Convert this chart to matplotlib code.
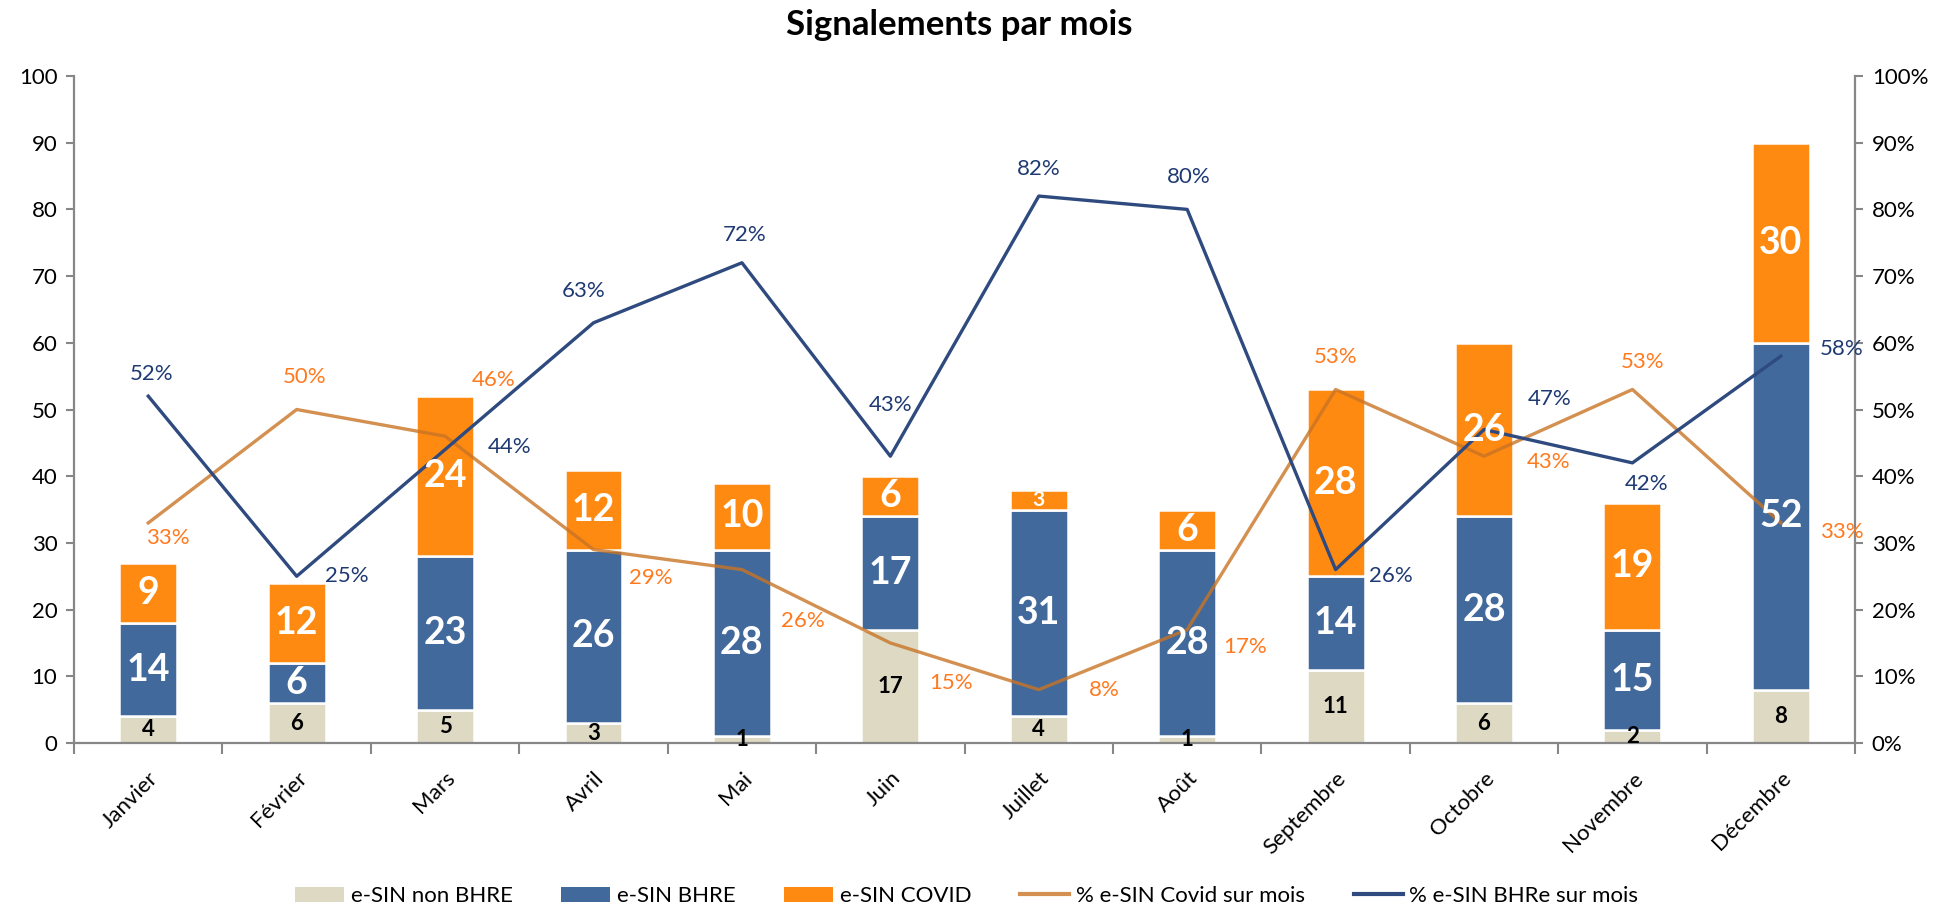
import numpy as np
import matplotlib.pyplot as plt
from matplotlib.patches import Patch
from matplotlib.lines import Line2D
from matplotlib.ticker import PercentFormatter

plt.rcParams['font.family'] = ['Lato', 'DejaVu Sans']

# données
mois = ['Janvier', 'Février', 'Mars', 'Avril', 'Mai', 'Juin', 'Juillet',
        'Août', 'Septembre', 'Octobre', 'Novembre', 'Décembre']
non_bhre = [4, 6, 5, 3, 1, 17, 4, 1, 11, 6, 2, 8]
bhre = [14, 6, 23, 26, 28, 17, 31, 28, 14, 28, 15, 52]
covid = [9, 12, 24, 12, 10, 6, 3, 6, 28, 26, 19, 30]
pct_covid = [33, 50, 46, 29, 26, 15, 8, 17, 53, 43, 53, 33]
pct_bhre = [52, 25, 44, 63, 72, 43, 82, 80, 26, 47, 42, 58]

# décalage des étiquettes de % (pixels)
off_bhre = [(3, 22), (50, 0), (64, 3), (-10, 32), (3, 28), (0, 51),
            (0, 27), (2, 32), (55, -6), (66, 31), (14, -21), (61, 7)]
off_covid = [(20, -15), (8, 33), (49, 56), (57, -28), (61, -51), (61, -40),
             (66, 0), (58, -17), (0, 32), (65, -6), (10, 27), (61, -9)]

c_beige = '#DDD9C3'
c_blue = '#41699B'
c_orange = '#FF8A12'
c_lcovid = '#C87424'
c_lbhre = '#2E4A7E'
c_spine = '#878787'

fig = plt.figure(figsize=(19.49, 9.08), dpi=100)
ax = fig.add_axes([0.038, 0.1817, 0.9138, 0.7346])
ax2 = ax.twinx()

x = np.arange(len(mois))
w = 0.39
bot2 = np.array(non_bhre)
bot3 = bot2 + np.array(bhre)
b1 = ax.bar(x, non_bhre, w, color=c_beige, edgecolor='white', linewidth=1.8)
b2 = ax.bar(x, bhre, w, bottom=bot2, color=c_blue, edgecolor='white', linewidth=1.8)
b3 = ax.bar(x, covid, w, bottom=bot3, color=c_orange, edgecolor='white', linewidth=1.8)

ax.set_xlim(-0.5, 11.5)
ax.set_ylim(0, 100)
ax.set_yticks(np.arange(0, 101, 10))
ax.set_xticks(x)
ax.set_xticklabels(mois, rotation=45, ha='right', rotation_mode='anchor', fontsize=16)
ax.set_xticks(np.arange(-0.5, 12, 1), minor=True)
ax.tick_params(axis='x', which='major', length=0, pad=18)
ax.tick_params(axis='x', which='minor', length=8, width=1.5, color=c_spine)
ax.tick_params(axis='y', length=6, width=1.5, color=c_spine, labelsize=16, pad=6)

ax2.set_ylim(0, 1)
ax2.set_yticks(np.arange(0, 1.01, 0.1))
ax2.yaxis.set_major_formatter(PercentFormatter(1.0, decimals=0))
ax2.tick_params(axis='y', length=6, width=1.5, color=c_spine, labelsize=16, pad=6)

for a in (ax, ax2):
    a.spines['top'].set_visible(False)
    for s in ('left', 'right', 'bottom'):
        a.spines[s].set_color(c_spine)
        a.spines[s].set_linewidth(1.6)
ax.spines['right'].set_visible(False)
ax2.spines['left'].set_visible(False)
ax2.spines['bottom'].set_visible(False)

# courbes de %
pc = np.array(pct_covid) / 100
pb = np.array(pct_bhre) / 100
ax2.plot(x, pc, color=c_lcovid, lw=2.4, alpha=0.8, zorder=2)
ax2.plot(x, pb, color=c_lbhre, lw=2.4, zorder=2)

for i in range(len(mois)):
    ax2.annotate(f'{pct_covid[i]}%', (x[i], pc[i]), xytext=off_covid[i],
                 textcoords='offset pixels', ha='center', va='center',
                 fontsize=16, color='#FF7A1F', zorder=4)
    ax2.annotate(f'{pct_bhre[i]}%', (x[i], pb[i]), xytext=off_bhre[i],
                 textcoords='offset pixels', ha='center', va='center',
                 fontsize=16, color='#1F3A73', zorder=4)

# étiquettes des barres (au-dessus des courbes)
for i in range(len(mois)):
    ax2.text(x[i], non_bhre[i] / 2, str(non_bhre[i]), transform=ax.transData,
             ha='center', va='center', fontsize=16, fontweight='bold',
             color='black', zorder=5)
    ax2.text(x[i], bot2[i] + bhre[i] / 2, str(bhre[i]), transform=ax.transData,
             ha='center', va='center', fontsize=27, fontweight='bold',
             color='white', zorder=5)
    fs = 27 if covid[i] > 4 else 15
    ax2.text(x[i], bot3[i] + covid[i] / 2, str(covid[i]), transform=ax.transData,
             ha='center', va='center', fontsize=fs, fontweight='bold',
             color='white', zorder=5)

fig.text(0.492, 0.972, 'Signalements par mois', ha='center', va='center',
         fontsize=25, fontweight='bold')

handles = [Patch(facecolor=c_beige), Patch(facecolor=c_blue), Patch(facecolor=c_orange),
           Line2D([], [], color=c_lcovid, lw=3, alpha=0.8),
           Line2D([], [], color=c_lbhre, lw=3)]
labels = ['e-SIN non BHRE', 'e-SIN BHRE', 'e-SIN COVID',
          '% e-SIN Covid sur mois', '% e-SIN BHRe sur mois']
fig.legend(handles, labels, loc='center', bbox_to_anchor=(0.496, 0.013), ncol=5,
           frameon=False, fontsize=16, handlelength=2.2, handletextpad=0.3,
           columnspacing=2.2)

fig.savefig('out.png', dpi=100)
